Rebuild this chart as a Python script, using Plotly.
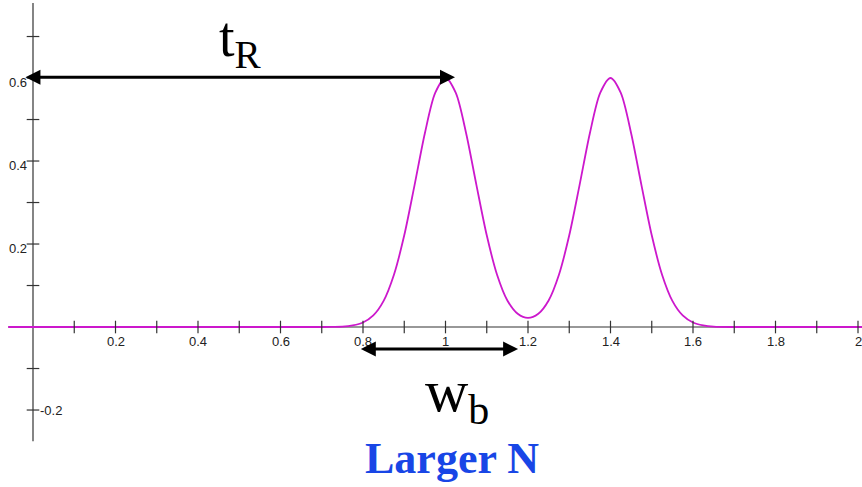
import plotly.graph_objects as go

# ---- data ----
curve_x = [-0.06, 0.70, 0.725, 0.75, 0.775, 0.80, 0.825, 0.85, 0.875, 0.90, 0.925, 0.95, 0.975,
           1.00, 1.025, 1.05, 1.075, 1.10, 1.125, 1.15, 1.175, 1.20, 1.225, 1.25, 1.275, 1.30,
           1.325, 1.35, 1.375, 1.40, 1.425, 1.45, 1.475, 1.50, 1.525, 1.55, 1.575, 1.60, 1.625,
           1.65, 1.70, 2.01]
curve_y = [0, 0, 0.0004, 0.001, 0.004, 0.011, 0.028, 0.063, 0.126, 0.221, 0.342, 0.467, 0.564,
           0.600, 0.564, 0.467, 0.342, 0.221, 0.126, 0.064, 0.032, 0.022, 0.032, 0.064, 0.126, 0.221,
           0.342, 0.467, 0.564, 0.600, 0.564, 0.467, 0.342, 0.221, 0.126, 0.063, 0.028, 0.011, 0.004,
           0.001, 0, 0]

x_ticks = [0.1, 0.2, 0.3, 0.4, 0.5, 0.6, 0.7, 0.8, 0.9, 1.0, 1.1, 1.2, 1.3, 1.4, 1.5, 1.6, 1.7, 1.8, 1.9, 2.0]
x_tick_labels_at = [0.2, 0.4, 0.6, 0.8, 1.0, 1.2, 1.4, 1.6, 1.8, 2.0]
x_tick_labels = ["0.2", "0.4", "0.6", "0.8", "1", "1.2", "1.4", "1.6", "1.8", "2"]
y_ticks = [0.7, 0.6, 0.5, 0.4, 0.3, 0.2, 0.1, -0.1, -0.2]
y_tick_labels_at = [0.6, 0.4, 0.2]
y_tick_labels = ["0.6", "0.4", "0.2"]
y_neg_label_at = [-0.2]
y_neg_labels = ["-0.2"]

x_axis_span = [-0.06, 2.02]
y_axis_span = [-0.275, 0.781]

tR_arrow_x = [-0.022, 1.023]
tR_arrow_y = 0.602
wb_arrow_x = [0.791, 1.176]
wb_arrow_y = -0.053

AXIS = "#333333"
MAGENTA = "#cc18cc"
TICKFONT = dict(family="Liberation Sans", size=13, color="#222222")

fig = go.Figure()

# axis lines
fig.add_shape(type="line", x0=x_axis_span[0], x1=x_axis_span[1], y0=0, y1=0,
              line=dict(color=AXIS, width=1.2), layer="below")
fig.add_shape(type="line", x0=0, x1=0, y0=y_axis_span[0], y1=y_axis_span[1],
              line=dict(color=AXIS, width=1.2), layer="below")

# curve
fig.add_trace(go.Scatter(x=curve_x, y=curve_y, mode="lines",
                         line=dict(color=MAGENTA, width=1.8, shape="spline", smoothing=0.8),
                         hoverinfo="skip", cliponaxis=False))

# ticks
fig.add_trace(go.Scatter(x=x_ticks, y=[0] * len(x_ticks), mode="markers",
                         marker=dict(symbol="line-ns", size=9, line=dict(color=AXIS, width=1.2)),
                         hoverinfo="skip", cliponaxis=False))
fig.add_trace(go.Scatter(x=[0] * len(y_ticks), y=y_ticks, mode="markers",
                         marker=dict(symbol="line-ew", size=9, line=dict(color=AXIS, width=1.2)),
                         hoverinfo="skip", cliponaxis=False))

# tick labels
for v, t in zip(x_tick_labels_at, x_tick_labels):
    fig.add_annotation(x=v, y=0, text=t, showarrow=False, xanchor="center", yanchor="top",
                       yshift=-5, font=TICKFONT)
for v, t in zip(y_tick_labels_at, y_tick_labels):
    fig.add_annotation(x=0, y=v, text=t, showarrow=False, xanchor="right", yanchor="middle",
                       xshift=-4, yshift=-4, font=TICKFONT)
for v, t in zip(y_neg_label_at, y_neg_labels):
    fig.add_annotation(x=0, y=v, text=t, showarrow=False, xanchor="left", yanchor="middle",
                       xshift=5, font=TICKFONT)

# arrows
for (xa, ya) in [(tR_arrow_x, tR_arrow_y), (wb_arrow_x, wb_arrow_y)]:
    fig.add_annotation(x=xa[1], y=ya, ax=xa[0], ay=ya, xref="x", yref="y", axref="x", ayref="y",
                       text="", showarrow=True, arrowhead=2, startarrowhead=2, arrowside="end+start",
                       arrowwidth=3, arrowsize=1, startarrowsize=1, arrowcolor="black", standoff=0,
                       startstandoff=0)

# labels
fig.add_annotation(x=0.504, y=0.69, text="t<sub>R</sub>", showarrow=False, xanchor="center",
                   yanchor="middle", font=dict(family="Liberation Serif", size=56, color="black"))
fig.add_annotation(x=1.028, y=-0.166, text="w<sub>b</sub>", showarrow=False, xanchor="center",
                   yanchor="middle", font=dict(family="Liberation Serif", size=60, color="black"))
fig.add_annotation(x=1.016, y=-0.318, text="<b>Larger N</b>", showarrow=False, xanchor="center",
                   yanchor="middle", font=dict(family="Liberation Serif", size=44, color="#1846e6"))

fig.update_layout(
    width=862, height=487, margin=dict(l=0, r=0, t=0, b=0),
    paper_bgcolor="white", plot_bgcolor="white", showlegend=False,
    xaxis=dict(range=[-0.08, 2.0097], visible=False, fixedrange=True),
    yaxis=dict(range=[-0.3855, 0.788], visible=False, fixedrange=True),
)

fig.write_html("out.html", config={"displayModeBar": False},
               post_script="document.body.style.margin='0';document.body.style.overflow='hidden';")
